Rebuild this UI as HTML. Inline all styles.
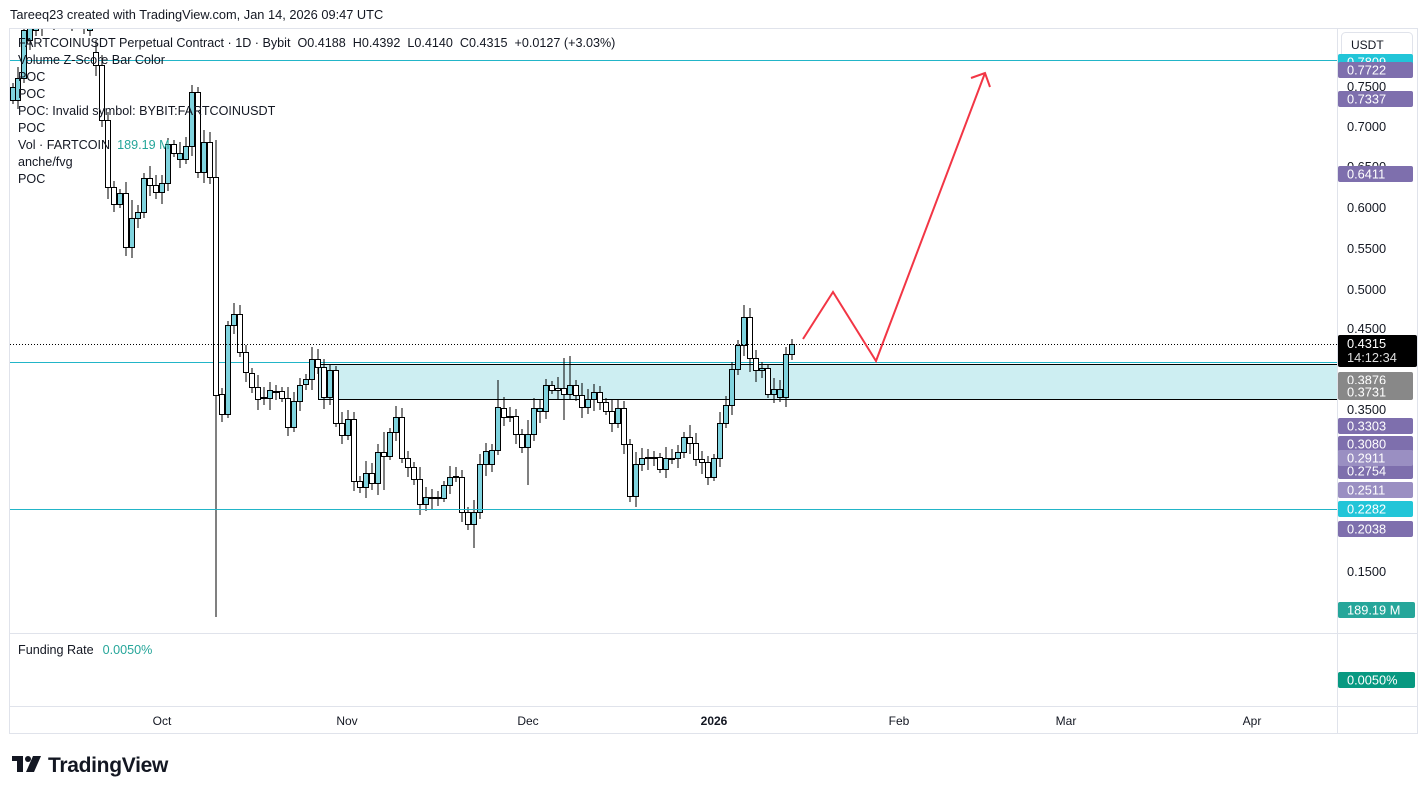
<!DOCTYPE html>
<html><head><meta charset="utf-8"><style>
html,body{margin:0;padding:0;background:#fff;width:1427px;height:794px;overflow:hidden;font-family:"Liberation Sans",sans-serif;}
svg text{font-family:"Liberation Sans",sans-serif;white-space:pre;}
</style></head><body>
<svg id="s" width="1427" height="794" xmlns="http://www.w3.org/2000/svg">
<rect x="0" y="0" width="1427" height="794" fill="#fff"/>
<text x="10" y="19" font-size="12.8" fill="#131722">Tareeq23 created with TradingView.com, Jan 14, 2026 09:47 UTC</text>
<rect x="9.5" y="28.5" width="1408" height="705" fill="none" stroke="#e0e3eb"/>
<line x1="1337.5" y1="28" x2="1337.5" y2="734" stroke="#e0e3eb"/>
<line x1="10" y1="633.5" x2="1417" y2="633.5" stroke="#e0e3eb"/>
<line x1="10" y1="706.5" x2="1417" y2="706.5" stroke="#e0e3eb"/>
<defs><clipPath id="pc"><rect x="10" y="29" width="1327" height="604"/></clipPath></defs>
<g clip-path="url(#pc)">
<rect x="318" y="364" width="1019" height="35" fill="#cdeef2"/>
<line x1="318" y1="364.5" x2="1337" y2="364.5" stroke="#000"/>
<line x1="318" y1="399.5" x2="1337" y2="399.5" stroke="#000"/>
<line x1="318.5" y1="364" x2="318.5" y2="399" stroke="#000"/>
<line x1="10" y1="60.5" x2="1337" y2="60.5" stroke="#22b5c8"/>
<line x1="10" y1="362.5" x2="1337" y2="362.5" stroke="#22b5c8"/>
<g id="candles"></g>
<line x1="10" y1="509.5" x2="1337" y2="509.5" stroke="#22b5c8"/>
<line x1="10" y1="344.5" x2="1337" y2="344.5" stroke="#000" stroke-dasharray="1,2"/>
<polyline points="803,339 833,292 876,361 985,73" fill="none" stroke="#f23645" stroke-width="2"/>
<polyline points="971,78 985,73 990,87" fill="none" stroke="#f23645" stroke-width="2"/>
</g>
<g font-size="12.6" fill="#131722">
<text x="18" y="47">FARTCOINUSDT Perpetual Contract · 1D · Bybit  O0.4188  H0.4392  L0.4140  C0.4315  +0.0127 (+3.03%)</text>
<text x="18" y="64">Volume Z-Score Bar Color</text>
<text x="18" y="81">POC</text>
<text x="18" y="98">POC</text>
<text x="18" y="115">POC: Invalid symbol: BYBIT:FARTCOINUSDT</text>
<text x="18" y="132">POC</text>
<text x="18" y="149">Vol · FARTCOIN  <tspan fill="#26a69a">189.19 M</tspan></text>
<text x="18" y="166">anche/fvg</text>
<text x="18" y="183">POC</text>
<text x="18" y="654">Funding Rate  <tspan dx="2" fill="#26a69a">0.0050%</tspan></text>
</g>
<rect x="1341.5" y="32.5" width="71" height="25" rx="4" fill="#fff" stroke="#e0e3eb"/>
<text x="1351" y="49" font-size="12" fill="#131722">USDT</text>
<g font-size="12.8" fill="#131722" id="ax">
<text x="1347" y="91">0.7500</text>
<text x="1347" y="131">0.7000</text>
<text x="1347" y="171">0.6500</text>
<text x="1347" y="212">0.6000</text>
<text x="1347" y="253">0.5500</text>
<text x="1347" y="294">0.5000</text>
<text x="1347" y="333">0.4500</text>
<text x="1347" y="414">0.3500</text>
<text x="1347" y="576">0.1500</text>
</g>
<g id="labels" font-size="12.8"></g>
<g font-size="12" fill="#131722" text-anchor="middle">
<text x="162" y="725">Oct</text><text x="347" y="725">Nov</text><text x="528" y="725">Dec</text>
<text x="714" y="725" font-weight="bold">2026</text><text x="899" y="725">Feb</text><text x="1066" y="725">Mar</text><text x="1252" y="725">Apr</text>
</g>
<g fill="#131722">
<rect x="12" y="756" width="11" height="5"/><rect x="17" y="756" width="6" height="16"/>
<circle cx="28" cy="759" r="3"/><polygon points="33,756 41,756 34,772 26,772"/>
<text x="48" y="772" font-size="21" font-weight="bold" letter-spacing="-0.3">TradingView</text>
</g>
</svg>
<script>
var C=[
[13,100,87],[18,100,78],[24,78,30],[30,40,20],[36,30,15],[42,25,10],[48,20,15],[54,18,10],[60,15,8],[66,20,12],[72,22,14],[78,24,18],[84,24,15],[90,30,24],[96,52,65],
[102,65,120],[108,120,187],[114,187,204],[120,204,193],[126,193,247],[132,247,218],[138,218,212],[144,212,178],[150,178,185],[156,185,192],[162,192,183],[168,183,144],[174,144,153],[180,159,153],[186,159,146],[192,146,92],[198,92,172],[204,172,142],[210,142,177],[216,177,395],
[222,394,414],[228,414,325],[234,325,314],[240,314,352],[246,352,372],[252,373,387],[258,387,399],[264,398,397],[270,398,390],[276,391,391],[282,391,398],[288,398,427],[294,427,401],[300,401,385],[306,384,379],[312,379,359],[318,359,367],[324,367,397],[330,397,370],[336,370,423],[342,423,435],[348,435,419],[354,419,481],[360,481,487],[366,487,473],[372,473,483],[378,483,452],[384,452,456],[390,456,432],[396,432,417],[402,417,458],[408,458,467],[414,467,479],[420,479,504],[426,504,497],[432,497,497],[438,498,497],[444,498,485],[450,485,477],[456,476,476],[462,477,512],[468,512,524],[474,524,512],[480,512,464],[486,464,451],[492,464,450],
[498,450,407],[504,408,417],[510,416,417],[516,416,434],[522,434,447],[528,447,434],[534,434,408],[540,411,408],[546,411,385],[552,385,390],[558,388,390],[564,388,394],[570,394,385],[576,385,395],[582,395,407],[588,407,399],[594,399,392],[600,392,402],[606,402,411],[612,411,423],[618,423,408],[624,408,444],[630,444,496],[636,496,464],[642,464,458],[648,457,457],[654,457,457],[660,457,469],[666,469,458],[672,458,458],[678,458,452],[684,452,437],[690,437,443],[696,443,459],[702,459,462],[708,462,477],[714,477,458],[720,458,423],[726,423,405],[732,405,369],[738,369,345],[744,345,317],[750,317,358],[756,358,370],[762,370,368],[768,368,394],[774,394,389],[780,397,389],[786,397,354],[792,354,344]];
var ov={216:[140,617],474:[500,548],498:[380,455],750:[308,372],528:[420,485],564:[358,420],570:[356,400],384:[432,490],132:[200,258]};
var h='';
C.forEach(function(c,i){var x=c[0]-0.5,o=c[1],cl=c[2];var t=Math.min(o,cl),b=Math.max(o,cl);if(b-t<1)b=t+1;
var hi=t-4-(i*7%9),lo=b+4+(i*5%9);if(ov[c[0]]){hi=ov[c[0]][0];lo=ov[c[0]][1];}
h+='<line x1="'+(x+0.5)+'" y1="'+hi+'" x2="'+(x+0.5)+'" y2="'+lo+'" stroke="#000"/>';
h+='<rect x="'+(x-2)+'" y="'+(t+0.5)+'" width="5" height="'+(b-t)+'" fill="'+(cl<o?'#7fd3de':'#fff')+'" stroke="#000"/>';});
document.getElementById('candles').innerHTML=h;
var L=[[62,'0.7809','#22c5d8'],[70,'0.7722','#7e6fad'],[99,'0.7337','#7e6fad'],[174,'0.6411','#7e6fad'],[380,'0.3876','#888888'],[392,'0.3731','#888888'],[426,'0.3303','#7e6fad'],[444,'0.3080','#7e6fad'],[471,'0.2754','#7e6fad'],[458,'0.2911','#9a8fc2'],[490,'0.2511','#9a8fc2'],[509,'0.2282','#22c5d8'],[529,'0.2038','#7e6fad'],[610,'189.19 M','#26a69a'],[680,'0.0050%','#089981']];
var g='';L.forEach(function(l){g+='<rect x="1338" y="'+(l[0]-8)+'" width="'+(l[1].length>6?77:75)+'" height="16" rx="2" fill="'+l[2]+'"/><text x="1347" y="'+(l[0]+4.5)+'" fill="#fff">'+l[1]+'</text>';});
g+='<rect x="1338" y="335" width="79" height="32" rx="2" fill="#000"/><text x="1347" y="348" fill="#fff">0.4315</text><text x="1347" y="362" fill="#ddd">14:12:34</text>';
document.getElementById('labels').innerHTML=g;
</script>
</body></html>
